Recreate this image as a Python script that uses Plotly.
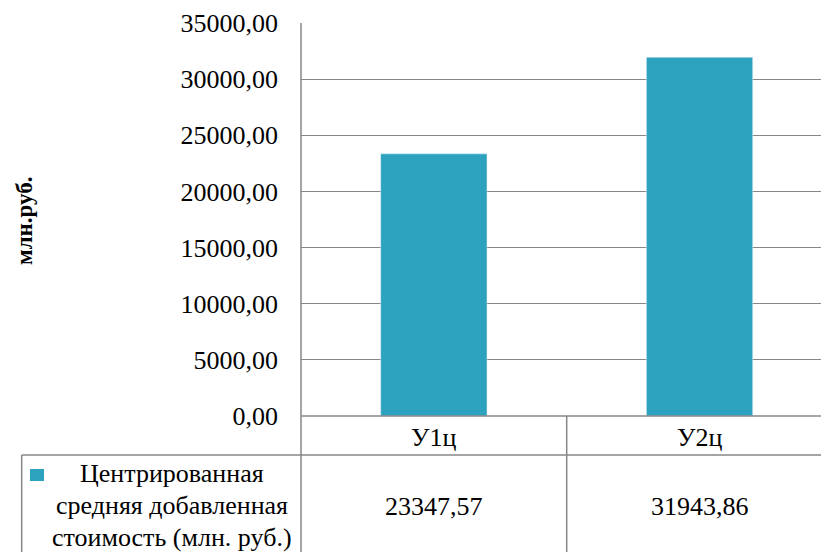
import plotly.graph_objects as go

categories = ["У1ц", "У2ц"]
values = [23347.57, 31943.86]
series_lines = ["Центрированная", "средняя добавленная", "стоимость (млн. руб.)"]
y_title = "<b>млн.руб.</b>"
y_ticks = [0, 5000, 10000, 15000, 20000, 25000, 30000, 35000]

BAR = "#2CA2BF"
GRID = "#878787"
FONT = "Liberation Serif"

W, H = 821, 552
L, R, T, B = 301, 0, 23, 136
PW, PH = W - L - R, H - T - B


def px_x(px):
    return (px - L) / PW


def px_y(py):
    return (H - B - py) / PH


def fmt(v):
    return f"{v:.2f}".replace(".", ",")


fig = go.Figure()
fig.add_trace(go.Bar(x=categories, y=values, marker_color=BAR, width=0.4,
                     name=" ".join(series_lines), showlegend=False))

cat_w = 265.7
fig.update_layout(
    width=W, height=H,
    margin=dict(l=L, r=R, t=T, b=B),
    paper_bgcolor="white", plot_bgcolor="white",
    font=dict(family=FONT, size=26, color="black"),
    separators=",.",
    showlegend=False,
    xaxis=dict(range=[-0.5, -0.5 + PW / cat_w], showticklabels=False,
               showgrid=False, zeroline=False, showline=False, fixedrange=True),
    yaxis=dict(range=[0, 35000], tickvals=y_ticks, tickformat=".2f",
               showgrid=True, gridcolor=GRID, gridwidth=1.3, zeroline=False,
               showline=False, ticks="", ticklabelstandoff=22,
               tickfont=dict(family=FONT, size=26, color="black")),
)

line = dict(color=GRID, width=1.5)
shapes = [
    dict(type="line", xref="paper", yref="paper", x0=0, x1=0, y0=1, y1=px_y(H), line=line),
    dict(type="line", xref="paper", yref="paper", x0=0, x1=1, y0=0, y1=0, line=line),
    dict(type="line", xref="paper", yref="paper", x0=px_x(21.7), x1=1,
         y0=px_y(455), y1=px_y(455), line=line),
    dict(type="line", xref="x", yref="paper", x0=0.5, x1=0.5, y0=0, y1=px_y(H), line=line),
    dict(type="line", xref="paper", yref="paper", x0=px_x(21.7), x1=px_x(21.7),
         y0=px_y(455), y1=px_y(H), line=line),
    dict(type="rect", xref="paper", yref="paper", x0=px_x(30), x1=px_x(44),
         y0=px_y(469), y1=px_y(481), fillcolor=BAR, line=dict(width=0)),
]
fig.update_layout(shapes=shapes)

annotations = []
for c, v in zip(categories, values):
    annotations.append(dict(x=c, xref="x", y=px_y(437), yref="paper", text=c,
                            showarrow=False, yanchor="middle", xanchor="center",
                            font=dict(family=FONT, size=26, color="black")))
    annotations.append(dict(x=c, xref="x", y=px_y(506), yref="paper", text=fmt(v),
                            showarrow=False, yanchor="middle", xanchor="center",
                            font=dict(family=FONT, size=26, color="black")))
for txt, py in zip(series_lines, [474, 505.5, 537]):
    annotations.append(dict(x=px_x(172), xref="paper", y=px_y(py), yref="paper",
                            text=txt, showarrow=False, xanchor="center", yanchor="middle",
                            font=dict(family=FONT, size=26, color="black")))
annotations.append(dict(x=px_x(25), xref="paper", y=px_y(221), yref="paper",
                        text=y_title, showarrow=False, textangle=-90,
                        xanchor="center", yanchor="middle",
                        font=dict(family=FONT, size=23, color="black")))
fig.update_layout(annotations=annotations)

fig.write_html("out.html", config={"displayModeBar": False},
               post_script="document.body.style.margin='0';document.body.style.overflow='hidden';")
